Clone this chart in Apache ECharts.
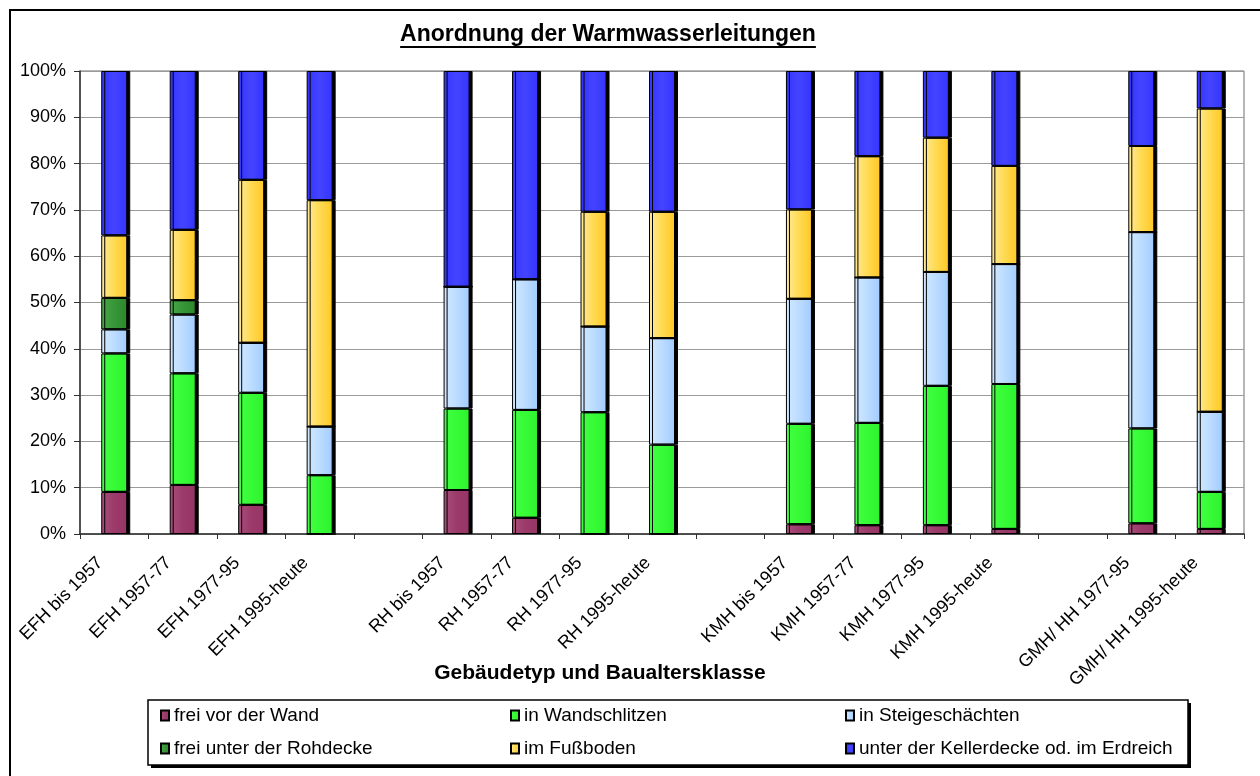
<!DOCTYPE html>
<html>
<head>
<meta charset="utf-8">
<script src="https://cdn.jsdelivr.net/npm/echarts@6/dist/echarts.min.js"></script>
<style>
  html, body { margin: 0; padding: 0; background: #fff; }
  #chart { width: 1260px; height: 776px; }
</style>
</head>
<body>
<div id="chart"></div>
<script>
// Building type / age class; empty entries separate the building groups
const categories = [
  'EFH bis 1957', 'EFH 1957-77', 'EFH 1977-95', 'EFH 1995-heute', '',
  'RH bis 1957', 'RH 1957-77', 'RH 1977-95', 'RH 1995-heute', '',
  'KMH bis 1957', 'KMH 1957-77', 'KMH 1977-95', 'KMH 1995-heute', '',
  'GMH/ HH 1977-95', 'GMH/ HH 1995-heute'
];

// Shares in percent (null = spacer column)
const freiVorDerWand   = [9.1, 10.6, 6.3, 0,    null, 9.5, 3.5, 0,    0,    null, 2.1, 1.9, 1.9, 1.1, null, 2.3, 1.1];
const inWandschlitzen  = [29.9, 24.1, 24.2, 12.7, null, 17.6, 23.3, 26.3, 19.3, null, 21.7, 22.1, 30.1, 31.3, null, 20.5, 8.0];
const inSteigeschacht  = [5.2, 12.7, 10.8, 10.5, null, 26.3, 28.2, 18.5, 23.0, null, 27.0, 31.4, 24.6, 25.9, null, 42.4, 17.3];
const freiUnterDecke   = [6.8, 3.1, 0,    0,    null, 0,    0,    0,    0,    null, 0,    0,    0,    0,    null, 0,    0];
const imFussboden      = [13.5, 15.2, 35.2, 48.9, null, 0,    0,    24.8, 27.3, null, 19.3, 26.2, 29.0, 21.2, null, 18.6, 65.5];
const unterKellerdecke = [35.5, 34.3, 23.5, 27.9, null, 46.6, 45.0, 30.4, 30.4, null, 29.9, 18.4, 14.4, 20.5, null, 16.2, 8.1];

const yTicks = [0, 10, 20, 30, 40, 50, 60, 70, 80, 90, 100];

const FONT = "'Liberation Sans', Arial, Helvetica, sans-serif";

function hGrad(stops) {
  return {
    type: 'linear', x: 0, y: 0, x2: 1, y2: 0,
    colorStops: stops.map((c, i) => ({ offset: i / (stops.length - 1), color: c }))
  };
}

const seriesDefs = [
  { name: 'frei vor der Wand', data: freiVorDerWand, color: hGrad(['#a8507c', '#9c3a6a', '#953566']) },
  { name: 'in Wandschlitzen', data: inWandschlitzen, color: hGrad(['#45ff45', '#36fb36', '#2ef22e']) },
  { name: 'in Steigeschächten', data: inSteigeschacht, color: hGrad(['#d2e9ff', '#bcdcff', '#a2ccff']) },
  { name: 'frei unter der Rohdecke', data: freiUnterDecke, color: hGrad(['#4aa84a', '#379637', '#2c882c']) },
  { name: 'im Fußboden', data: imFussboden, color: hGrad(['#ffea9a', '#ffda52', '#ffc826']) },
  { name: 'unter der Kellerdecke od. im Erdreich', data: unterKellerdecke, color: hGrad(['#3434ff', '#4444ff', '#3434ff']) }
];

const series = seriesDefs.map(d => ({
  name: d.name,
  type: 'bar',
  stack: 'total',
  barWidth: 26,
  data: d.data.map(v => (v === null ? '-' : v)),
  itemStyle: {
    color: d.color,
    borderColor: '#000',
    borderWidth: 1,
    shadowColor: '#000',
    shadowOffsetX: 3,
    shadowOffsetY: 0,
    shadowBlur: 0
  },
  emphasis: { disabled: true },
  animation: false
}));

// Legend layout: three columns, two rows
const legendPos = [
  { left: 160, top: 706 }, { left: 510, top: 706 }, { left: 845, top: 706 },
  { left: 160, top: 739 }, { left: 510, top: 739 }, { left: 845, top: 739 }
];
const legends = seriesDefs.map((d, i) => ({
  data: [d.name],
  left: legendPos[i].left,
  top: legendPos[i].top,
  padding: 0,
  itemWidth: 8,
  itemHeight: 10,
  icon: 'rect',
  selectedMode: false,
  itemStyle: { shadowColor: 'rgba(0,0,0,0)', shadowOffsetX: 0, shadowBlur: 0 },
  textStyle: { fontFamily: FONT, fontSize: 19, color: '#000' }
}));

// Title, with its width measured for the underline
const titleText = 'Anordnung der Warmwasserleitungen';
const titleFont = 'bold 23px ' + FONT;
const ctx = document.createElement('canvas').getContext('2d');
ctx.font = titleFont;
const titleW = ctx.measureText(titleText).width;
const titleCx = 608;

const chart = echarts.init(document.getElementById('chart'), null, { renderer: 'canvas' });

chart.setOption({
  backgroundColor: '#fff',
  animation: false,
  legend: legends,
  grid: {
    left: 80, right: 16, top: 71, bottom: 242,
    show: true, borderColor: '#6e6e6e', borderWidth: 1, backgroundColor: 'transparent'
  },
  xAxis: {
    type: 'category',
    data: categories,
    axisLine: { lineStyle: { color: '#303030', width: 1.5 } },
    axisTick: { show: true, interval: 0, length: 5, lineStyle: { color: '#303030' } },
    axisLabel: {
      interval: 0, rotate: 45, margin: 12,
      padding: [0, 20, 0, 0],
      fontFamily: FONT, fontSize: 18, color: '#000'
    },
    splitLine: { show: false }
  },
  yAxis: {
    type: 'value',
    min: yTicks[0], max: yTicks[yTicks.length - 1], interval: yTicks[1] - yTicks[0],
    axisLine: { show: true, lineStyle: { color: '#303030', width: 1.5 } },
    axisTick: { show: true, length: 6, lineStyle: { color: '#303030' } },
    axisLabel: {
      margin: 14, formatter: '{value}%',
      fontFamily: FONT, fontSize: 18, color: '#000'
    },
    splitLine: { show: true, lineStyle: { color: '#9a9a9a', width: 1 } }
  },
  graphic: [
    // outer chart frame
    { type: 'polyline', z: 100, shape: { points: [[10, 790], [10, 10], [1262, 10]] },
      style: { stroke: '#000', lineWidth: 2, fill: null } },
    // chart title and its underline
    { type: 'text', z: 100,
      style: { x: titleCx, y: 35, text: titleText, align: 'center', verticalAlign: 'middle',
               font: titleFont, fill: '#000' } },
    { type: 'line', z: 100, shape: { x1: titleCx - titleW / 2, y1: 47, x2: titleCx + titleW / 2, y2: 47 },
      style: { stroke: '#000', lineWidth: 2 } },
    // axis title
    { type: 'text', z: 100,
      style: { x: 600, y: 673, text: 'Gebäudetyp und Baualtersklasse', align: 'center', verticalAlign: 'middle',
               font: 'bold 21px ' + FONT, fill: '#000' } },
    // legend frame: drop shadow, then box
    { type: 'rect', z: -2, shape: { x: 151, y: 703, width: 1040, height: 65 },
      style: { fill: '#000' } },
    { type: 'rect', z: -1, shape: { x: 148, y: 700, width: 1040, height: 65 },
      style: { fill: '#fff', stroke: '#000', lineWidth: 1.5 } }
  ],
  series: series
});
</script>
</body>
</html>
